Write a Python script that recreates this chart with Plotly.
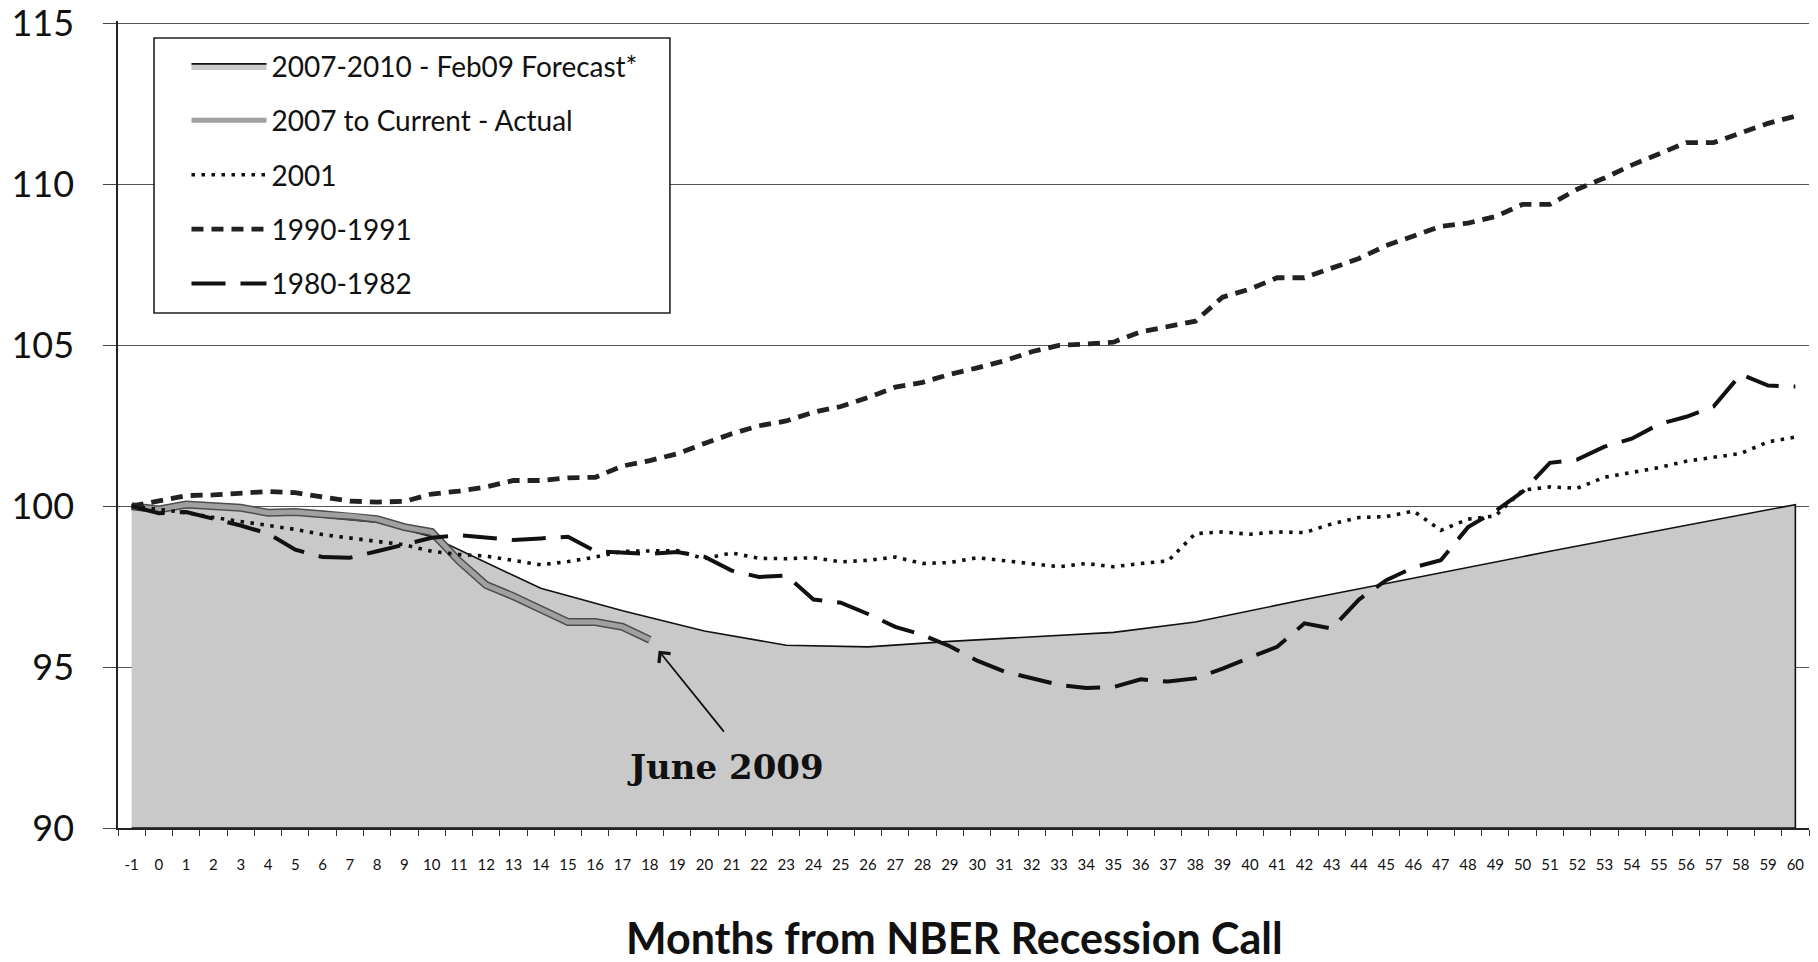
import plotly.graph_objects as go

# ---------------- data ----------------
MONTHS = list(range(-1, 61))
TICK_LABELS = [str(m) for m in MONTHS]
Y_TICKS = [90, 95, 100, 105, 110, 115]

FORECAST_MONTHS = [-1, 2, 5, 8, 10, 14, 17, 20, 23, 26, 29, 35, 38, 42, 45, 51, 60]
FORECAST_VALUES = [100, 99.95, 99.75, 99.5, 99.05, 97.45, 96.75, 96.12, 95.68, 95.63,
                   95.8, 96.08, 96.4, 97.1, 97.6, 98.6, 100.05]

ACTUAL_MONTHS = list(range(-1, 19))
ACTUAL_VALUES = [100, 99.9, 100.05, 100.0, 99.95, 99.8, 99.82, 99.75, 99.7, 99.6,
                 99.35, 99.2, 98.3, 97.55, 97.2, 96.8, 96.4, 96.4, 96.25, 95.85]

R2001 = [100, 99.9, 99.8, 99.65, 99.52, 99.4, 99.28, 99.12, 99.02, 98.92,
         98.8, 98.6, 98.5, 98.45, 98.32, 98.18, 98.28, 98.42, 98.6, 98.6,
         98.62, 98.37, 98.55, 98.38, 98.37, 98.4, 98.27, 98.32, 98.42, 98.22,
         98.25, 98.4, 98.3, 98.22, 98.12, 98.22, 98.12, 98.22, 98.3, 99.15,
         99.2, 99.13, 99.2, 99.18, 99.45, 99.65, 99.68, 99.85, 99.25, 99.6,
         99.7, 100.5, 100.6, 100.56, 100.9, 101.05, 101.2, 101.4, 101.52, 101.64,
         102.0, 102.15]

R1990 = [100, 100.15, 100.33, 100.35, 100.4, 100.46, 100.42, 100.3, 100.16, 100.13,
         100.15, 100.38, 100.47, 100.6, 100.8, 100.8, 100.88, 100.9, 101.25, 101.42,
         101.63, 101.95, 102.25, 102.5, 102.65, 102.92, 103.1, 103.38, 103.7, 103.85,
         104.1, 104.3, 104.52, 104.8, 105.0, 105.04, 105.1, 105.42, 105.58, 105.75,
         106.5, 106.75, 107.1, 107.1, 107.4, 107.7, 108.1, 108.4, 108.7, 108.8,
         109.0, 109.38, 109.38, 109.85, 110.2, 110.6, 110.95, 111.3, 111.3, 111.6,
         111.9, 112.12]

R1980 = [100, 99.78, 99.82, 99.62, 99.4, 99.15, 98.65, 98.42, 98.4, 98.6,
         98.8, 99.02, 99.1, 99.02, 98.95, 99.0, 99.05, 98.6, 98.55, 98.52,
         98.58, 98.43, 98.0, 97.8, 97.85, 97.1, 97.0, 96.65, 96.25, 96.0,
         95.65, 95.2, 94.86, 94.65, 94.45, 94.35, 94.38, 94.62, 94.55, 94.65,
         94.95, 95.3, 95.63, 96.36, 96.2, 97.1, 97.7, 98.1, 98.32, 99.35,
         99.85, 100.45, 101.35, 101.45, 101.85, 102.1, 102.55, 102.78, 103.1, 104.1,
         103.75, 103.72]

Y_MIN, Y_MAX = 90, 115
X_TITLE = "Months from NBER Recession Call"

# ---------------- figure ----------------
FONT = "Lato, 'Open Sans', sans-serif"
fig = go.Figure()

# forecast area (closed down to the axis minimum)
fig.add_trace(go.Scatter(
    x=FORECAST_MONTHS + [FORECAST_MONTHS[-1], FORECAST_MONTHS[0]],
    y=FORECAST_VALUES + [Y_MIN, Y_MIN],
    mode="lines", fill="toself", fillcolor="#c9c9c9",
    line=dict(color="#111111", width=1.6),
    name="2007-2010 - Feb09 Forecast*", legendgroup="a", hoverinfo="skip"))

# actual: dark outline + grey core
fig.add_trace(go.Scatter(
    x=ACTUAL_MONTHS, y=ACTUAL_VALUES, mode="lines",
    line=dict(color="#4d4d4d", width=8), showlegend=False, legendgroup="b",
    hoverinfo="skip"))
fig.add_trace(go.Scatter(
    x=ACTUAL_MONTHS, y=ACTUAL_VALUES, mode="lines",
    line=dict(color="#a0a0a0", width=5),
    name="2007 to Current - Actual", legendgroup="b"))

fig.add_trace(go.Scatter(
    x=MONTHS, y=R2001, mode="lines",
    line=dict(color="#111111", width=3.6, dash="3.5px,6.5px"),
    name="2001", legendgroup="c"))

fig.add_trace(go.Scatter(
    x=MONTHS, y=R1990, mode="lines",
    line=dict(color="#222222", width=4.8, dash="12px,8px"),
    name="1990-1991", legendgroup="d"))

fig.add_trace(go.Scatter(
    x=MONTHS, y=R1980, mode="lines",
    line=dict(color="#111111", width=4, dash="34px,15px"),
    name="1980-1982", legendgroup="e"))

# annotation with arrow
fig.add_annotation(
    x=ACTUAL_MONTHS[-1], y=ACTUAL_VALUES[-1], xref="x", yref="y",
    ax=20.76, ay=92.95, axref="x", ayref="y",
    text="", showarrow=True, arrowhead=4, arrowsize=1.6, arrowwidth=1.8,
    arrowcolor="#111111", standoff=14)
fig.add_annotation(
    x=20.76, y=91.9, xref="x", yref="y", text="<b>June 2009</b>",
    showarrow=False, font=dict(family="'DejaVu Serif', serif", size=34, color="#111111"))

# x axis title
fig.add_annotation(
    x=0.4944, y=-0.1363, xref="paper", yref="paper", xanchor="center", yanchor="middle",
    text="<b>" + X_TITLE + "</b>", showarrow=False,
    font=dict(family=FONT, size=43, color="#111111"))

# legend box
fig.add_shape(type="rect", xref="paper", yref="paper",
              x0=0.0213, x1=0.3264, y0=0.6382, y1=0.9789,
              line=dict(color="#222222", width=1.6), fillcolor="white", layer="above")

fig.update_layout(
    width=1818, height=962,
    margin=dict(l=118, r=9, t=21, b=134, autoexpand=False),
    paper_bgcolor="white", plot_bgcolor="white",
    font=dict(family=FONT, color="#111111"),
    showlegend=True,
    legend=dict(x=0.0405, y=0.975, xanchor="left", yanchor="top",
                xref="paper", yref="paper",
                bgcolor="rgba(0,0,0,0)", borderwidth=0,
                font=dict(family=FONT, size=28, color="#111111"),
                itemwidth=75, tracegroupgap=15, traceorder="grouped"),
    xaxis=dict(range=[-1.5, 60.5], tickmode="array", tickvals=MONTHS, ticktext=TICK_LABELS,
               ticks="", showgrid=False, zeroline=False, tickangle=0, automargin=False,
               showline=True, linecolor="#222222", linewidth=1.5,
               tickfont=dict(family=FONT, size=15, color="#111111"),
               ticklabelstandoff=22, ticklabeloverflow="allow",
               minor=dict(tickmode="array", tickvals=[m - 0.5 for m in MONTHS] + [60.5],
                          ticks="outside", ticklen=6, tickcolor="#333333", showgrid=False)),
    yaxis=dict(range=[Y_MIN, Y_MAX + 0.08], tickmode="array", tickvals=Y_TICKS,
               ticktext=[str(v) for v in Y_TICKS],
               showgrid=True, gridcolor="#555555", gridwidth=1, zeroline=False,
               showline=True, linecolor="#222222", linewidth=1.5, automargin=False,
               ticks="outside", ticklen=13, tickcolor="#444444",
               tickfont=dict(family=FONT, size=36, color="#111111"),
               ticklabelstandoff=22, ticklabeloverflow="allow"),
)

fig.write_html("out.html", config={"displayModeBar": False},
               post_script="document.body.style.margin='0px';")
